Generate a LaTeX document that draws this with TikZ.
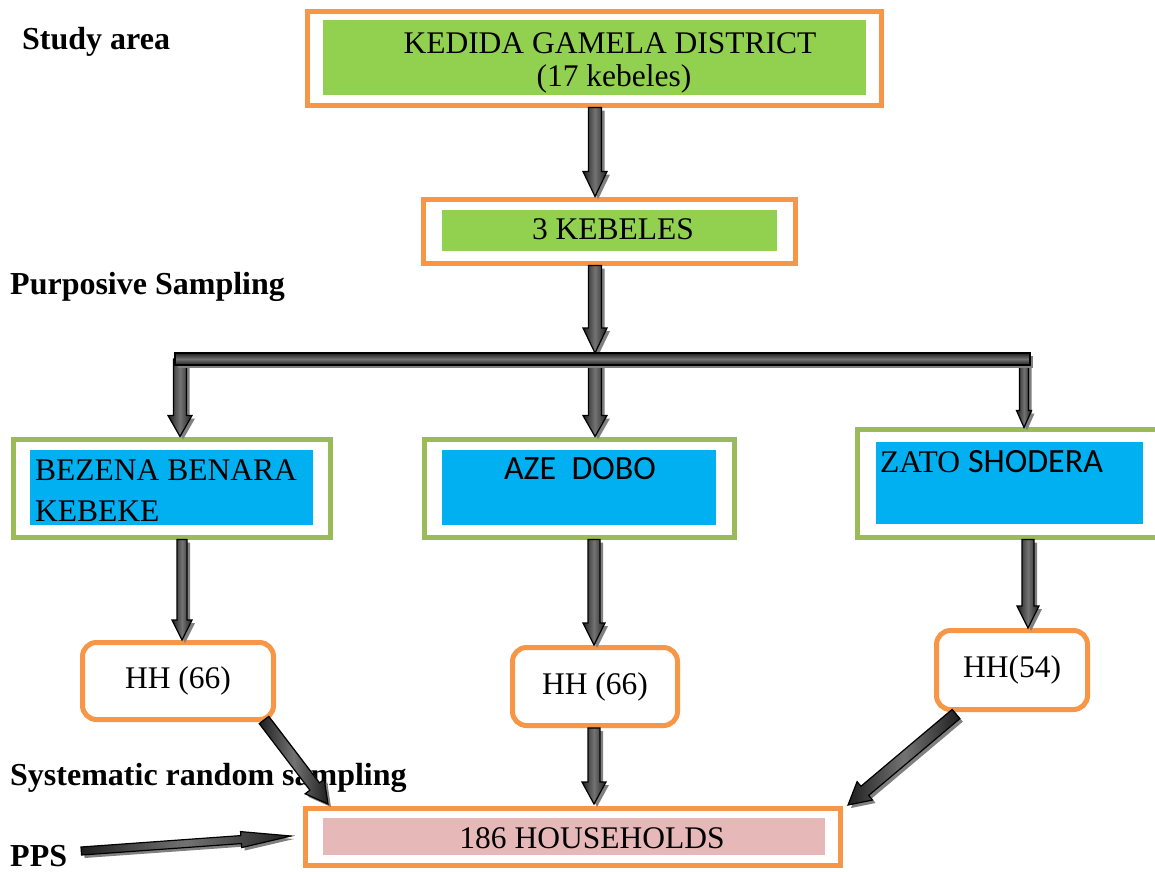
\documentclass[tikz,border=0pt]{standalone}
\usepackage{fontspec}
\setmainfont{Liberation Serif}
\newfontfamily\carlito{Carlito}
\usetikzlibrary{calc}
\definecolor{frameorange}{HTML}{F79646}
\definecolor{lightgreen}{HTML}{92D050}
\definecolor{olivegreen}{HTML}{9BBB59}
\definecolor{skyblue}{HTML}{00B0F0}
\definecolor{rosepink}{HTML}{E6B9B8}
\definecolor{arrshadow}{HTML}{808080}
\newcommand\arrpoly{($(ba-a)!\baW!90:(ba-b)$) -- ($(ba-c)!\baW!90:(ba-b)$) -- ($(ba-c)!\baH!90:(ba-b)$) -- (ba-b) -- ($(ba-c)!\baH!-90:(ba-b)$) -- ($(ba-c)!\baW!-90:(ba-b)$) -- ($(ba-a)!\baW!-90:(ba-b)$) -- cycle}
\newcommand\blockarr[5]{%
  \coordinate (ba-a) at (#1);
  \coordinate (ba-b) at (#2);
  \coordinate (ba-c) at ($(ba-b)!#5!(ba-a)$);
  \def\baW{#3}\def\baH{#4}%
  \fill[arrshadow, transform canvas={shift={(3pt,-3pt)}}] \arrpoly;
  \shadedraw[arrbody] \arrpoly;
}
\tikzset{
  arrbody/.style={draw=black, line width=1.2pt, left color=black!88, right color=black!88, middle color=black!55},
  orangeframe/.style={draw=frameorange, line width=5pt, fill=white, inner sep=0},
  greenframe/.style={draw=olivegreen, line width=5pt, fill=white, inner sep=0},
  hhbox/.style={draw=frameorange, line width=5pt, fill=white, rounded corners=14pt, inner sep=0, font=\fontsize{31.5}{36}\selectfont},
  fillbox/.style={inner sep=0, draw=none},
  boxtext/.style={inner sep=0, font=\fontsize{31.5}{36}\selectfont},
  sidelabel/.style={inner sep=0, anchor=west, font=\fontsize{32}{36}\selectfont\bfseries}
}
\begin{document}
\begin{tikzpicture}[x=1pt, y=-1pt]
\useasboundingbox (0,0) rectangle (1155,871);
\clip (0,0) rectangle (1155,871);

% side labels
\node[sidelabel] (studyL) at (22,42) {Study area};
\node[sidelabel] (purpL) at (10,287) {Purposive Sampling};
\node[sidelabel] (sysL) at (10,778) {Systematic random sampling};
\node[sidelabel] (ppsL) at (10,856) {PPS};

% district
\node[orangeframe, minimum width=574, minimum height=94] (distO) at (594,58) {};
\node[fillbox, fill=lightgreen, minimum width=543, minimum height=75] (distI) at (594.5,57.5) {};
\node[boxtext] (distT1) at (610,43) {KEDIDA GAMELA DISTRICT};
\node[boxtext] (distT2) at (614,79) {(17 kebeles)};

% 3 kebeles
\node[orangeframe, minimum width=372, minimum height=64] (kebO) at (609,231) {};
\node[fillbox, fill=lightgreen, minimum width=335, minimum height=41] (kebI) at (609.5,230.5) {};
\node[boxtext] (kebT) at (613,229) {3 KEBELES};

% kebele boxes
\node[greenframe, minimum width=317, minimum height=98] (bezO) at (171.5,488) {};
\node[fillbox, fill=skyblue, minimum width=283, minimum height=75] (bezI) at (171.5,487.5) {};
\node[boxtext, anchor=west, align=left, font=\fontsize{31.5}{41}\selectfont] (bezT) at (35,490.5) {BEZENA BENARA\\KEBEKE};

\node[greenframe, minimum width=310, minimum height=98] (azeO) at (579,488) {};
\node[fillbox, fill=skyblue, minimum width=274, minimum height=75] (azeI) at (579,487.5) {};
\node[boxtext, font=\fontsize{34}{38}\carlito] (azeT) at (580,469) {AZE\ \ DOBO};

\node[greenframe, minimum width=300, minimum height=108] (zatoO) at (1007,483) {};
\node[fillbox, fill=skyblue, minimum width=267, minimum height=82] (zatoI) at (1009.5,483) {};
\node[boxtext, anchor=west] (zatoT) at (880,462) {ZATO {\fontsize{34}{38}\carlito SHODERA}};

% HH boxes
\node[hhbox, minimum width=191, minimum height=77] (hh1) at (178,681) {HH (66)};
\node[hhbox, minimum width=165, minimum height=78] (hh2) at (595,686.5) {HH (66)};
\node[hhbox, minimum width=151, minimum height=79] (hh3) at (1012,670) {HH(54)};

% households
\node[orangeframe, minimum width=535, minimum height=57] (botO) at (573,837) {};
\node[fillbox, fill=rosepink, minimum width=502, minimum height=37] (botI) at (574,836.5) {};
\node[boxtext] (botT) at (592,838) {186 HOUSEHOLDS};

% bar coordinates
\coordinate (barT) at (595,353);
\coordinate (barL) at (180,359);
\coordinate (barM) at (595,359);
\coordinate (barR) at (1024,364);

% arrows
\blockarr{$(distO.south)+(1,0)$}{$(kebO.north)+(-14,0)$}{6.5pt}{12pt}{25pt}
\blockarr{$(kebO.south)+(-14,0)$}{barT}{6.5pt}{12pt}{25pt}
\blockarr{barL}{$(bezO.north)+(8.5,0)$}{6.5pt}{12pt}{21pt}
\blockarr{barM}{$(azeO.north)+(16,0)$}{6.5pt}{12pt}{21pt}
\blockarr{barR}{$(zatoO.north)+(17,1)$}{4.5pt}{7.5pt}{17pt}

% horizontal bar
\fill[arrshadow, transform canvas={shift={(3pt,-3pt)}}] (175,353) rectangle (1030,365);
\shadedraw[draw=black, line width=1.2pt, top color=black!88, bottom color=black!88, middle color=black!55] (175,353) rectangle (1030,365);

\blockarr{$(bezO.south)+(10.5,0)$}{$(hh1.north)+(4,0)$}{5pt}{10pt}{20pt}
\blockarr{$(azeO.south)+(15,0)$}{$(hh2.north)+(-1,0)$}{6pt}{11pt}{22pt}
\blockarr{$(zatoO.south)+(21,0)$}{$(hh3.north)+(16,0)$}{6pt}{11pt}{22pt}

\blockarr{$(hh1.south east)+(-12,-2)$}{$(botO.north west)+(25,-2)$}{6pt}{12pt}{22pt}
\blockarr{$(hh2.south)+(-1,0)$}{$(botO.north)+(21,-2)$}{6pt}{12pt}{22pt}
\blockarr{$(hh3.south west)+(22,2)$}{$(botO.north east)+(5,-1)$}{6pt}{12pt}{22pt}

\blockarr{$(ppsL.east)+(14,-5)$}{$(botO.west)+(-12,-1)$}{4pt}{8pt}{50pt}
\end{tikzpicture}
\end{document}
